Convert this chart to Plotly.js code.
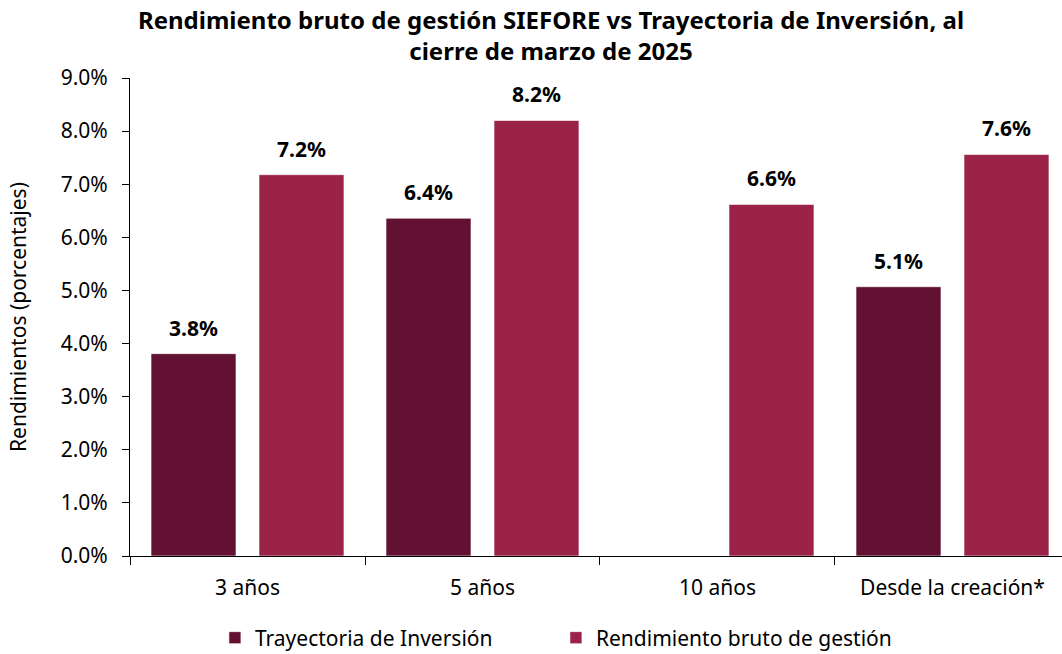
<!DOCTYPE html>
<html>
<head>
<meta charset="utf-8">
<script src="https://cdn.plot.ly/plotly-3.0.1.min.js"></script>
<style>html,body{margin:0;padding:0;background:#fff;}#chart{width:1062px;height:654px;}</style>
</head>
<body>
<div id="chart"></div>
<script>
const categories = ['3 años', '5 años', '10 años', 'Desde la creación*'];
const seriesNames = ['Trayectoria de Inversión', 'Rendimiento bruto de gestión'];
const trayectoria = [3.81, 6.36, null, 5.07];
const rendimiento = [7.18, 8.20, 6.62, 7.56];
const yTicks = [0, 1, 2, 3, 4, 5, 6, 7, 8, 9];

const colors = ['#621132', '#9B2347'];
const FONT = 'Noto Sans, Open Sans, sans-serif';

const seriesValues = [trayectoria, rendimiento];
const traces = seriesValues.map((vals, i) => ({
  type: 'bar',
  name: seriesNames[i],
  x: categories,
  y: vals,
  marker: {color: colors[i], line: {color: 'rgba(255,255,255,0.6)', width: 1}},
  hoverinfo: 'skip'
}));

const shifts = [-54, 54];
const annotations = [];
seriesValues.forEach((vals, i) => {
  vals.forEach((v, j) => {
    if (v === null) return;
    annotations.push({
      x: categories[j], y: v, xref: 'x', yref: 'y',
      text: v.toFixed(1) + '%', showarrow: false,
      yanchor: 'bottom', xanchor: 'center',
      xshift: shifts[i], yshift: 10,
      font: {family: FONT, size: 21, color: '#000', weight: 'bold'}
    });
  });
});

const layout = {
  width: 1062, height: 654,
  margin: {l: 130, r: 0, t: 78, b: 98},
  paper_bgcolor: '#fff', plot_bgcolor: '#fff',
  font: {family: FONT, size: 21, color: '#000'},
  title: {
    text: '<b>Rendimiento bruto de gestión SIEFORE vs Trayectoria de Inversión, al<br>cierre de marzo de 2025</b>',
    x: 551 / 1062, xanchor: 'center', xref: 'container',
    y: 1 - 29 / 654, yanchor: 'middle', yref: 'container',
    font: {family: FONT, size: 24, color: '#000'}
  },
  barmode: 'group',
  bargap: 0.081,
  bargroupgap: 0.213,
  showlegend: true,
  legend: {
    orientation: 'h', x: 0.457, xanchor: 'center',
    y: 1 - 638 / 654, yanchor: 'middle', yref: 'container',
    font: {family: FONT, size: 21, color: '#000'},
    traceorder: 'normal', entrywidth: 296, entrywidthmode: 'pixels'
  },
  xaxis: {
    type: 'category',
    range: [-0.5, 3.466],
    showline: true, linecolor: '#000', linewidth: 1,
    ticks: 'outside', tickson: 'boundaries', ticklen: 8, tickcolor: '#000',
    ticklabelstandoff: 13,
    showgrid: false, zeroline: false,
    tickfont: {family: FONT, size: 21, color: '#000'},
    fixedrange: true
  },
  yaxis: {
    range: [0, 9],
    tickmode: 'array', tickvals: yTicks,
    ticktext: yTicks.map(v => v.toFixed(1) + '%'),
    showline: true, linecolor: '#000', linewidth: 1,
    ticks: 'outside', ticklen: 7, tickcolor: '#000',
    ticklabelstandoff: 10,
    showgrid: false, zeroline: false,
    tickfont: {family: FONT, size: 21, color: '#000'},
    title: {text: 'Rendimientos (porcentajes)', standoff: 28, font: {family: FONT, size: 21, color: '#000'}},
    fixedrange: true
  },
  annotations: annotations
};

Plotly.newPlot('chart', traces, layout, {displayModeBar: false, staticPlot: true});
</script>
</body>
</html>
